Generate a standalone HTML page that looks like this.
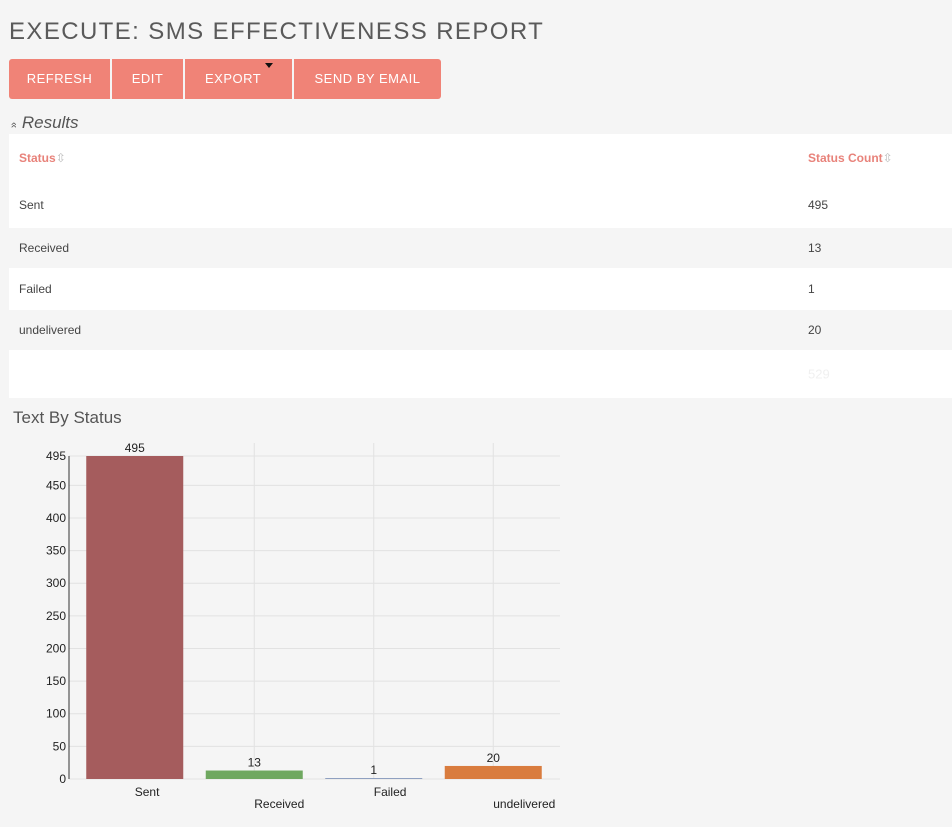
<!DOCTYPE html>
<html><head><meta charset="utf-8"><style>
body{margin:0;width:952px;height:827px;background:#f5f5f5;font-family:"Liberation Sans",sans-serif;position:relative;overflow:hidden}
.abs{position:absolute}
h1{position:absolute;left:9px;top:18px;margin:0;font-weight:normal;font-size:24px;letter-spacing:1.4px;color:#5a5a5a;}
.btns{position:absolute;left:9px;top:59px;height:40px}
.btn{position:absolute;top:0;height:40px;background:#f08377;color:#fff;font-size:13px;letter-spacing:0.5px;line-height:40px;text-align:center}
.row{position:absolute;left:9px;width:943px;font-size:12px;color:#444}
.row span{position:absolute;top:50%;transform:translateY(-50%)}
.c1{left:10px}.c2{left:799px}
.hd{color:#e8827a;font-weight:bold;font-size:12px}
</style></head><body>
<h1>EXECUTE: SMS EFFECTIVENESS REPORT</h1>
<div class="btns">
<div class="btn" style="left:0;width:101px;border-radius:3px 0 0 3px">REFRESH</div>
<div class="btn" style="left:103px;width:71px">EDIT</div>
<div class="btn" style="left:176px;width:107px;text-align:left;text-indent:20px">EXPORT<span style="position:absolute;left:80px;top:4px;border-left:4px solid transparent;border-right:4px solid transparent;border-top:5px solid #111"></span></div>
<div class="btn" style="left:285px;width:147px;border-radius:0 3px 3px 0">SEND BY EMAIL</div>
</div>
<div class="abs" style="left:11px;top:113px;font-size:17px;font-style:italic;color:#555"><span style="font-size:11px;font-style:normal;display:inline-block;transform:rotate(-90deg)">»</span> Results</div>
<div class="row" style="top:134px;height:48px;background:#fff"><span class="c1 hd">Status <span style="color:#bbb;font-weight:normal">⇳</span></span><span class="c2 hd">Status Count <span style="color:#bbb;font-weight:normal">⇳</span></span></div>
<div class="row" style="top:182px;height:46px;background:#fff"><span class="c1">Sent</span><span class="c2">495</span></div>
<div class="row" style="top:228px;height:40px;background:#f5f5f5"><span class="c1">Received</span><span class="c2">13</span></div>
<div class="row" style="top:268px;height:42px;background:#fff"><span class="c1">Failed</span><span class="c2">1</span></div>
<div class="row" style="top:310px;height:40px;background:#f5f5f5"><span class="c1">undelivered</span><span class="c2">20</span></div>
<div class="row" style="top:350px;height:48px;background:#fff"><span class="c2" style="color:#f0f0f0;font-size:13px">529</span></div>
<div class="abs" style="left:13px;top:408px;font-size:17px;color:#555">Text By Status</div>
<svg class="abs" style="left:0;top:0" width="952" height="827" id="chart" font-family="Liberation Sans, sans-serif"></svg>
<script>
const categories=["Sent","Received","Failed","undelivered"];
const values=[495,13,1,20];
const colors=["#a55c5d","#6fa860","#8fa0c0","#d97c3e"];
const ticks=[0,50,100,150,200,250,300,350,400,450,495];
const svg=document.getElementById('chart');const NS='http://www.w3.org/2000/svg';
const x0=75,band=119.5,yBase=779,yTop=456,maxV=495,right=560,axisX=69;
const y=v=>yBase-(yBase-yTop)*v/maxV;
const cx=i=>x0+band*i+band/2;
function mk(t,a,p){const e=document.createElementNS(NS,t);for(const k in a)e.setAttribute(k,a[k]);(p||svg).appendChild(e);return e;}
ticks.forEach(t=>{
 const g=mk('line',{x1:axisX,x2:right,y1:y(t),y2:y(t),stroke:'#e2e2e2'});
 
 
 const l=mk('text',{x:axisX-3,y:y(t)+4,'text-anchor':'end','font-size':12,fill:'#222'});l.textContent=t;
 
 
});
categories.forEach((c,i)=>{
 if(i>0){const v=mk('line',{x1:cx(i),x2:cx(i),y1:443,y2:yBase,stroke:'#e2e2e2'});
 
 }
 const h=Math.max(yBase-y(values[i]),1);
 const r=mk('rect',{x:cx(i)-48.5,y:yBase-h,width:97,height:h,fill:colors[i]});
 
 
 const vl=mk('text',{x:cx(i),y:yBase-h-4,'text-anchor':'middle','font-size':12,fill:'#222'});vl.textContent=values[i];
 
 
 const cl=mk('text',{x:cx(i),y:i%2?808:796,'text-anchor':'start','font-size':12,fill:'#222'});cl.textContent=c;
 
 
});
const ax=mk('line',{x1:axisX,x2:axisX,y1:456,y2:yBase,stroke:'#333'});


</script>
</body></html>
